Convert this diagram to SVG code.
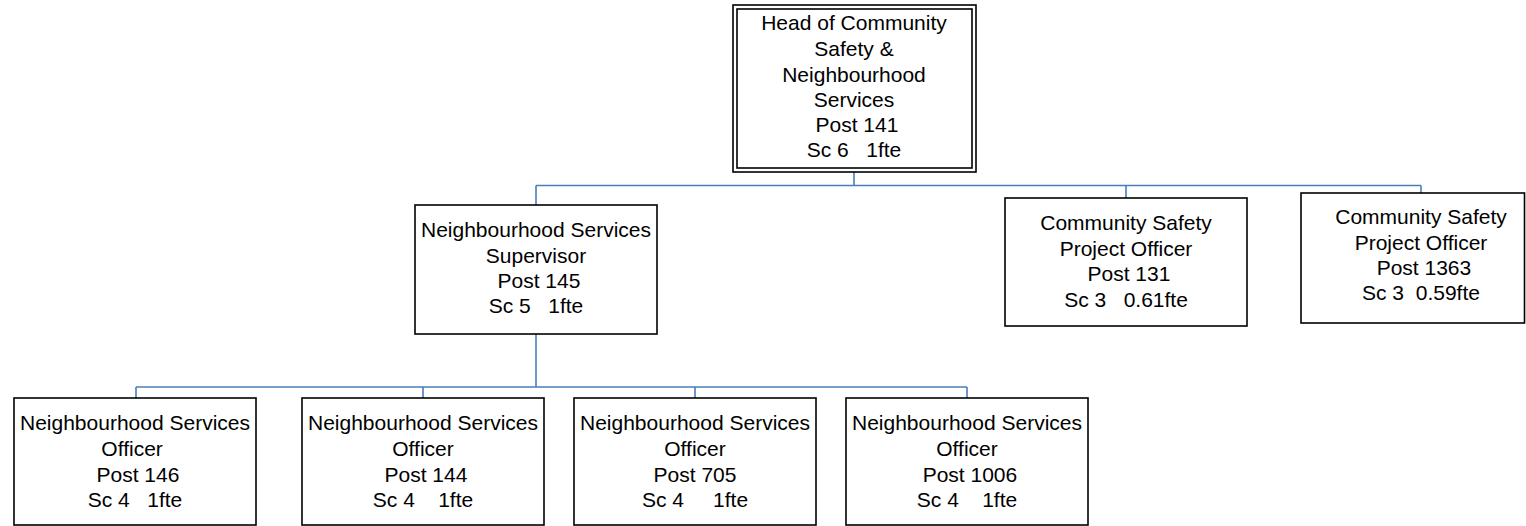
<svg xmlns="http://www.w3.org/2000/svg" width="1526" height="526" viewBox="0 0 1526 526">
  <style>
    .box { fill: #ffffff; stroke: #000000; stroke-width: 1.6; }
    .link { fill: none; stroke: #4A7EBB; stroke-width: 1.6; }
    text { font-family: "Liberation Sans", Arial, sans-serif; font-size: 21px; fill: #000000; text-anchor: middle; white-space: pre; }
  </style>
  <rect width="1526" height="526" fill="#ffffff"/>

  <g id="connectors">
    <!-- head to second tier -->
    <path class="link" d="M854,172 V185.5 M536,185.5 H1421 M536,185.5 V205 M1126,185.5 V198 M1421,185.5 V193"/>
    <!-- supervisor to officers -->
    <path class="link" d="M536,334 V387 M136,387 H967 M136,387 V398 M423,387 V398 M695,387 V398 M967,387 V398"/>
  </g>

  <g id="head">
    <rect class="box" x="733" y="5" width="243" height="167"/>
    <rect class="box" x="737" y="9" width="235" height="159"/>
    <text x="854" y="30">Head of Community</text>
    <text x="854" y="56">Safety &amp;</text>
    <text x="854" y="82">Neighbourhood</text>
    <text x="854" y="107">Services</text>
    <text x="854" y="132"> Post 141</text>
    <text x="854" y="157">Sc 6   1fte</text>
  </g>

  <g id="supervisor">
    <rect class="box" x="415" y="205" width="242" height="129"/>
    <text x="536" y="237">Neighbourhood Services</text>
    <text x="536" y="263">Supervisor</text>
    <text x="536" y="288"> Post 145</text>
    <text x="536" y="313">Sc 5   1fte</text>
  </g>

  <g id="cs-officer-131">
    <rect class="box" x="1005" y="198" width="242" height="128"/>
    <text x="1126" y="230">Community Safety</text>
    <text x="1126" y="256">Project Officer</text>
    <text x="1126" y="281"> Post 131</text>
    <text x="1126" y="307">Sc 3   0.61fte</text>
  </g>

  <g id="cs-officer-1363">
    <rect class="box" x="1301" y="193" width="223.5" height="130"/>
    <text x="1421" y="224">Community Safety</text>
    <text x="1421" y="250">Project Officer</text>
    <text x="1421" y="275"> Post 1363</text>
    <text x="1421" y="300">Sc 3  0.59fte</text>
  </g>

  <g id="ns-officer-146">
    <rect class="box" x="14" y="398" width="242" height="127"/>
    <text x="135" y="430">Neighbourhood Services</text>
    <text x="135" y="456">Officer </text>
    <text x="135" y="482"> Post 146</text>
    <text x="135" y="507">Sc 4   1fte</text>
  </g>

  <g id="ns-officer-144">
    <rect class="box" x="302" y="398" width="242" height="127"/>
    <text x="423" y="430">Neighbourhood Services</text>
    <text x="423" y="456">Officer</text>
    <text x="423" y="482"> Post 144</text>
    <text x="423" y="507">Sc 4    1fte</text>
  </g>

  <g id="ns-officer-705">
    <rect class="box" x="574" y="398" width="242" height="127"/>
    <text x="695" y="430">Neighbourhood Services</text>
    <text x="695" y="456">Officer</text>
    <text x="695" y="482">Post 705</text>
    <text x="695" y="507">Sc 4     1fte</text>
  </g>

  <g id="ns-officer-1006">
    <rect class="box" x="846" y="398" width="242" height="127"/>
    <text x="967" y="430">Neighbourhood Services</text>
    <text x="967" y="456">Officer</text>
    <text x="967" y="482"> Post 1006</text>
    <text x="967" y="507">Sc 4    1fte</text>
  </g>
</svg>
